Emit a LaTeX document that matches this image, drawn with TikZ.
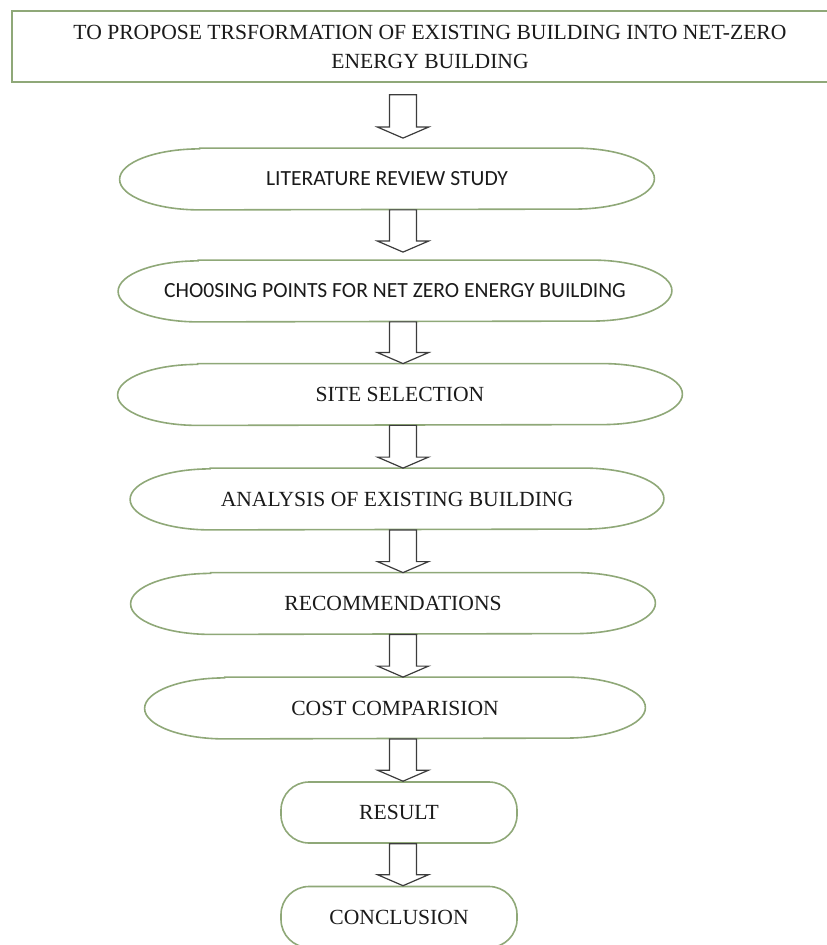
\documentclass[tikz,border=0pt]{standalone}
\usepackage{fontspec}
\setmainfont{Liberation Serif}
\newfontfamily\calibri{Carlito}
\usetikzlibrary{calc}
\definecolor{frame}{HTML}{8FA878}
\definecolor{arrowline}{HTML}{3C3C3C}
\definecolor{ink}{HTML}{1A1A1A}
\tikzset{goal/.style={ink,draw=frame,line width=0.8pt,rectangle,minimum width=418pt,minimum height=35.5pt,align=center,font=\fontsize{10.8}{14.5}\selectfont}}
\tikzset{stage/.style={ink,rectangle,minimum height=30.5pt,inner sep=0pt,font=\fontsize{10.8}{13}\selectfont}}
\tikzset{stageline/.style={draw=frame,line width=0.8pt}}
\tikzset{final/.style={ink,draw=frame,line width=0.8pt,rectangle,rounded corners=14pt,minimum width=118pt,minimum height=30.5pt,font=\fontsize{10.8}{13}\selectfont}}
\tikzset{blockarrow/.style={draw=arrowline,line width=0.6pt,fill=white,line join=miter}}

\begin{document}
\begin{tikzpicture}[x=0.5pt,y=-0.5pt]
    \useasboundingbox (0,0) rectangle (826,945);

    \node[goal] (goal) at (430,46.5)
    {TO PROPOSE TRSFORMATION OF EXISTING BUILDING INTO NET-ZERO\\ENERGY BUILDING};

    \node[stage,minimum width=267pt] (lit) at (387,179) {\calibri LITERATURE REVIEW STUDY};
    \node[stage,minimum width=276.5pt] (pts) at (395,291) {\calibri CHO0SING POINTS FOR NET ZERO ENERGY BUILDING};
    \node[stage,minimum width=282pt] (site) at (400,394.5) {SITE SELECTION};
    \node[stage,minimum width=266.5pt] (anal) at (397,499) {ANALYSIS OF EXISTING BUILDING};
    \node[stage,minimum width=262pt] (rec) at (393,603.5) {RECOMMENDATIONS};
    \node[stage,minimum width=250pt] (cost) at (395,708) {COST COMPARISION};

    \node[final] (res) at (399,812.5) {RESULT};
    \node[final] (conc) at (399,917) {CONCLUSION};

    % outlines of the long rounded stages
    \foreach \n in {lit,pts,site,anal,rec,cost}
    \draw[stageline] ([xshift=40pt]\n.north west) -- ([xshift=-40pt]\n.north east)
        arc[start angle=90,end angle=-90,x radius=40pt,y radius=15.25pt]
        -- ([xshift=40pt]\n.south west)
        arc[start angle=270,end angle=90,x radius=40pt,y radius=15.25pt] -- cycle;

    \coordinate (axis) at (403,0);

    \foreach \a/\b/\s/\e in {goal/lit/6pt/5pt, lit/pts/0pt/4pt, pts/site/0pt/0pt, site/anal/0pt/0pt,
        anal/rec/0pt/0pt, rec/cost/0pt/0pt, cost/res/0pt/0pt, res/conc/0pt/0pt}
    \draw[blockarrow] let \p1=($(\a.south -| axis)+(0,-\s)$), \p2=($(\b.north -| axis)+(0,\e)$) in
        (\x1-6.75pt,\y1) -- (\x1-6.75pt,\y2+5.5pt) -- (\x1-12.75pt,\y2+5.5pt) -- (\x2,\y2)
        -- (\x1+12.75pt,\y2+5.5pt) -- (\x1+6.75pt,\y2+5.5pt) -- (\x1+6.75pt,\y1) -- cycle;

\end{tikzpicture}
\end{document}
